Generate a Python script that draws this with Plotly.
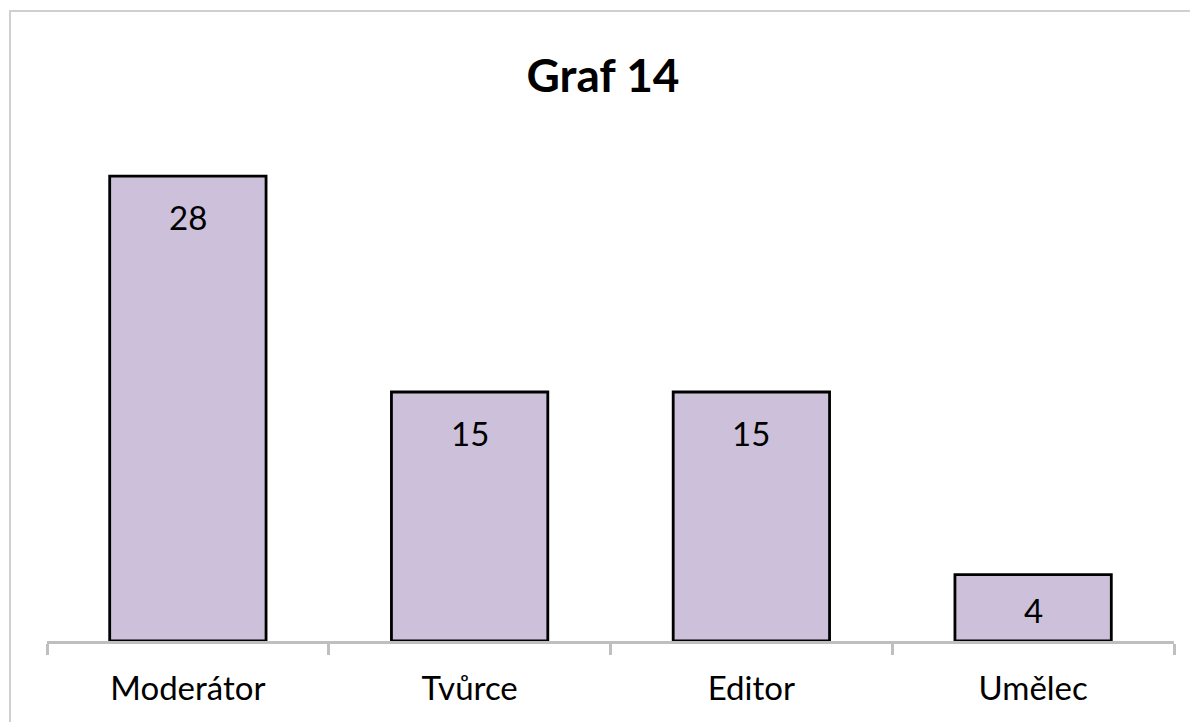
import plotly.graph_objects as go

categories = ["Moderátor", "Tvůrce", "Editor", "Umělec"]
values = [28, 15, 15, 4]
title_text = "Graf 14"

FONT = "Lato, Noto Sans, sans-serif"
PX_PER_UNIT = 498 / 30  # plot height / y range

fig = go.Figure()
fig.add_trace(go.Bar(
    x=categories, y=values,
    marker=dict(color="#ccc0da", line=dict(color="#000000", width=2.8)),
    hoverinfo="skip",
))

for c, v in zip(categories, values):
    shift = -min(41, 0.53 * v * PX_PER_UNIT)
    fig.add_annotation(x=c, y=v, text=str(v), showarrow=False, yshift=shift,
                       font=dict(family=FONT, size=33, color="#000000"))

fig.add_shape(type="rect", xref="paper", yref="paper", x0=-0.0328, x1=1.2, y0=-0.4, y1=1.265,
              line=dict(color="#d0d0d0", width=2), fillcolor="rgba(0,0,0,0)", layer="below")

fig.update_layout(
    width=1190, height=714,
    margin=dict(l=39, r=24, t=135, b=81),
    paper_bgcolor="white", plot_bgcolor="white",
    bargap=0.445,
    showlegend=False,
    title=dict(text="<b>" + title_text + "</b>", x=0.5, xanchor="center", y=0.905, yanchor="middle",
               font=dict(family=FONT, size=46, color="#000000")),
    xaxis=dict(showline=True, linecolor="#bfbfbf", linewidth=3, ticks="outside", tickson="boundaries",
               ticklen=11, tickwidth=3, tickcolor="#bfbfbf", ticklabelstandoff=16,
               tickfont=dict(family=FONT, size=33, color="#000000"),
               showgrid=False, zeroline=False),
    yaxis=dict(range=[0, 30], visible=False, showgrid=False, zeroline=False),
)

fig.write_html("out.html")
